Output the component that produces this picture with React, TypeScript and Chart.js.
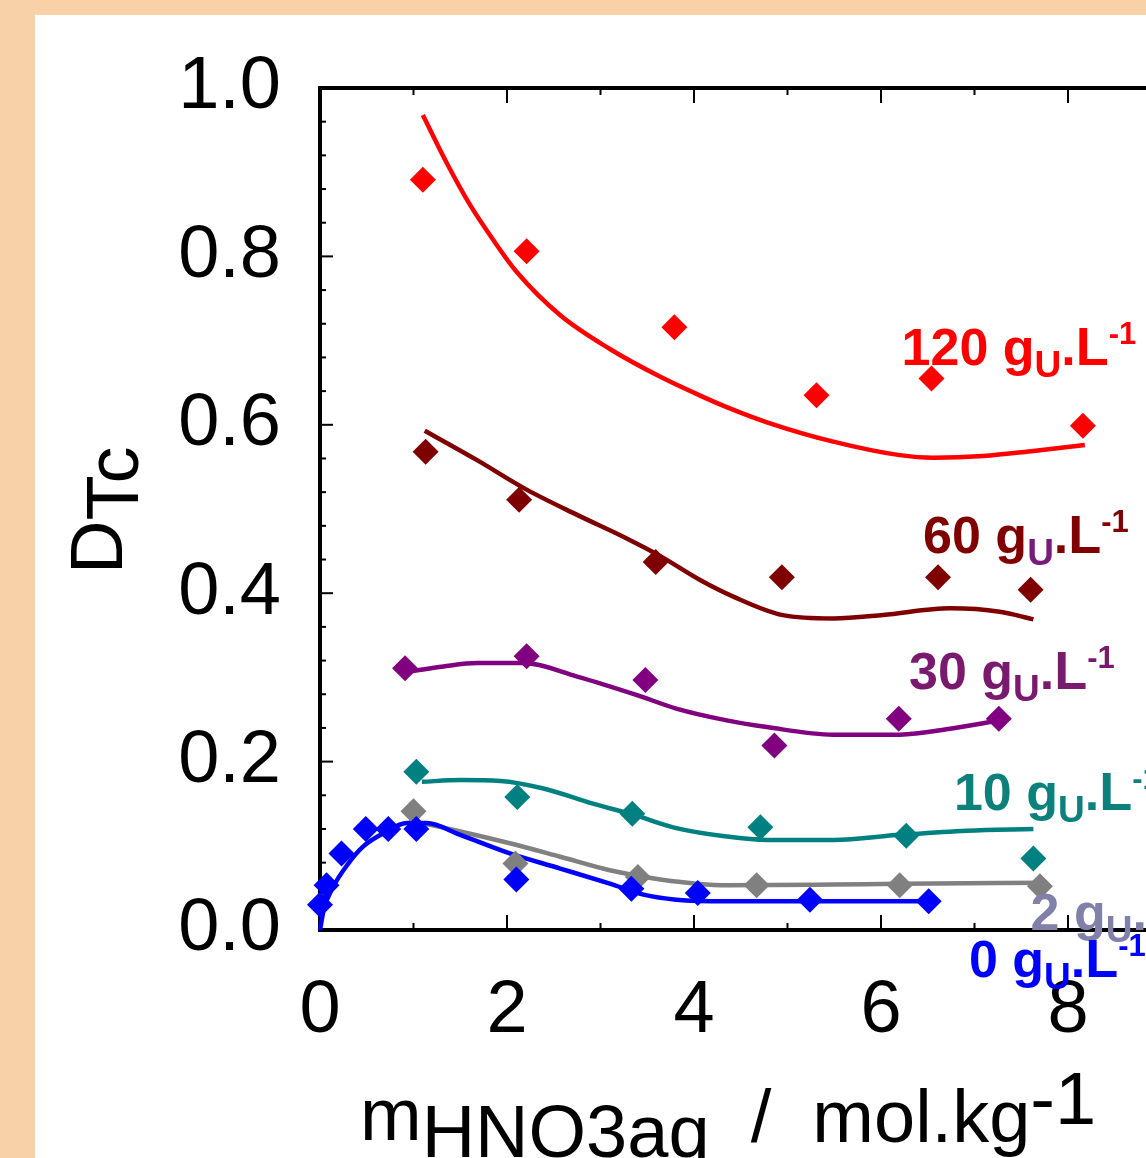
import React, { useEffect, useRef } from "react";
import { Chart, registerables } from "chart.js";

Chart.register(...registerables);

// ---- measured points (x = m HNO3 / mol.kg-1, y = D Tc) ----
const x0 = [0.0, 0.07, 0.23, 0.49, 0.73, 1.03, 2.1, 3.33, 4.04, 5.24, 6.51];
const y0 = [0.03, 0.053, 0.091, 0.12, 0.12, 0.12, 0.06, 0.049, 0.044, 0.036, 0.034];
const x2 = [1.0, 2.09, 3.4, 4.67, 6.2, 7.7];
const y2 = [0.141, 0.079, 0.063, 0.053, 0.053, 0.052];
const x10 = [1.03, 2.11, 3.34, 4.71, 6.27, 7.63];
const y10 = [0.188, 0.158, 0.138, 0.122, 0.112, 0.085];
const x30 = [0.91, 2.21, 3.48, 4.86, 6.19, 7.26];
const y30 = [0.311, 0.325, 0.297, 0.219, 0.251, 0.251];
const x60 = [1.13, 2.13, 3.59, 4.94, 6.61, 7.6];
const y60 = [0.568, 0.511, 0.437, 0.419, 0.419, 0.404];
const x120 = [1.1, 2.21, 3.79, 5.31, 6.54, 8.16];
const y120 = [0.891, 0.806, 0.716, 0.635, 0.655, 0.599];

// ---- fitted curves ----
const fx0 = [0, 0.04, 0.14, 0.29, 0.46, 0.68, 0.93, 1.14, 1.5, 2.03, 2.57, 3.1, 3.46, 3.81, 4.35, 5.49, 6.51];
const fy0 = [0, 0.024, 0.051, 0.077, 0.099, 0.115, 0.127, 0.127, 0.113, 0.091, 0.073, 0.055, 0.042, 0.036, 0.034, 0.034, 0.034];
const fx2 = [0.95, 1.07, 1.5, 2.03, 2.57, 3.1, 3.64, 4.35, 5.49, 6.2, 7.77];
const fy2 = [0.128, 0.127, 0.117, 0.103, 0.087, 0.071, 0.06, 0.053, 0.054, 0.055, 0.056];
const fx10 = [1.09, 1.5, 1.93, 2.39, 2.92, 3.35, 3.81, 4.35, 4.78, 5.49, 6.2, 6.92, 7.63];
const fy10 = [0.176, 0.178, 0.177, 0.168, 0.15, 0.137, 0.121, 0.111, 0.107, 0.107, 0.113, 0.118, 0.12];
const fx30 = [0.96, 1.32, 1.68, 2.17, 2.75, 3.39, 3.81, 4.35, 4.78, 5.49, 6.2, 6.74, 7.27];
const fy30 = [0.307, 0.313, 0.317, 0.317, 0.301, 0.279, 0.263, 0.249, 0.241, 0.232, 0.232, 0.239, 0.249];
const fx60 = [1.12, 1.68, 2.21, 2.75, 3.28, 3.64, 4.06, 4.42, 4.95, 5.49, 6.02, 6.74, 7.27, 7.63];
const fy60 = [0.593, 0.558, 0.523, 0.493, 0.465, 0.444, 0.416, 0.396, 0.374, 0.37, 0.374, 0.382, 0.378, 0.369];
const fx120 = [1.1, 1.36, 1.6, 1.85, 2.1, 2.57, 3.1, 3.64, 4.06, 4.35, 4.78, 5.49, 6.2, 6.56, 7.09, 7.63, 8.18];
const fy120 = [0.968, 0.91, 0.862, 0.82, 0.782, 0.73, 0.69, 0.657, 0.635, 0.621, 0.603, 0.58, 0.564, 0.561, 0.563, 0.569, 0.576];

// ---- ticks ----
const xTickValues = [0, 2, 4, 6, 8];
const xTickLabels = ["0", "2", "4", "6", "8"];
const yTickValues = [0, 0.2, 0.4, 0.6, 0.8, 1.0];
const yTickLabels = ["0.0", "0.2", "0.4", "0.6", "0.8", "1.0"];
const xMinorStep = 1;
const yMinorStep = 0.04;

// ---- series labels ----
const seriesNames = ["120", "60", "30", "10", "2", "0"];
const seriesColors = ["#ff0000", "#7f0000", "#800080", "#008080", "#808080", "#0000ff"];
const labelColors = ["#ff0000", "#800000", "#7a1a6e", "#0c807a", "#8080a8", "#0000ff"];
const labelUColors = ["#ff0000", "#7a1a7a", "#7a1a6e", "#0c807a", "#8080a8", "#0000ff"];
// anchor (data coords): left of text, baseline
const labelAnchorX = [6.22, 6.45, 6.3, 6.78, 7.6, 6.94];
const labelAnchorY = [0.671, 0.448, 0.286, 0.1425, 0.0, -0.056];

const FONT = '"Liberation Sans", Arial, sans-serif';

function pts(xs: number[], ys: number[]) {
  return xs.map((x, i) => ({ x, y: ys[i] }));
}

function drawRich(ctx: CanvasRenderingContext2D, x: number, y: number, parts: { t: string; f: string; c: string; dy: number }[]) {
  let cx = x;
  for (const p of parts) {
    ctx.font = p.f;
    ctx.fillStyle = p.c;
    ctx.fillText(p.t, cx, y + p.dy);
    cx += ctx.measureText(p.t).width;
  }
}

const framePlugin = {
  id: "frame",
  beforeDatasetsDraw(chart: any) {
    const { ctx, chartArea: a, scales } = chart;
    const xs = scales.x;
    const ys = scales.y;
    ctx.save();
    ctx.strokeStyle = "#000";
    ctx.lineWidth = 2;
    const line = (x1: number, y1: number, x2: number, y2: number) => {
      ctx.beginPath();
      ctx.moveTo(x1, y1);
      ctx.lineTo(x2, y2);
      ctx.stroke();
    };
    const nY = Math.round(1 / yMinorStep);
    for (let k = 0; k <= nY; k++) {
      const py = ys.getPixelForValue(k * yMinorStep);
      const L = k % 5 === 0 ? 13 : 6;
      line(a.left, py, a.left + L, py);
    }
    for (let k = 0; k <= 9; k++) {
      const px = xs.getPixelForValue(k * xMinorStep);
      const L = k % 2 === 0 ? 15 : 7;
      line(px, a.bottom, px, a.bottom - L);
      line(px, a.top, px, a.top + L);
    }
    ctx.lineWidth = 4;
    ctx.lineCap = "square";
    ctx.beginPath();
    ctx.moveTo(a.right + 20, a.top);
    ctx.lineTo(a.left, a.top);
    ctx.lineTo(a.left, a.bottom);
    ctx.lineTo(a.right + 20, a.bottom);
    ctx.stroke();
    ctx.restore();
  },
  afterDraw(chart: any) {
    const { ctx, chartArea: a, scales } = chart;
    const xs = scales.x;
    const ys = scales.y;
    ctx.save();
    ctx.textBaseline = "alphabetic";
    ctx.textAlign = "left";
    // series labels
    for (let i = 0; i < seriesNames.length; i++) {
      const px = xs.getPixelForValue(labelAnchorX[i]);
      const py = ys.getPixelForValue(labelAnchorY[i]);
      const c = labelColors[i];
      drawRich(ctx, px, py, [
        { t: seriesNames[i] + " g", f: `bold 52px ${FONT}`, c, dy: 0 },
        { t: "U", f: `bold 37px ${FONT}`, c: labelUColors[i], dy: 12 },
        { t: ".", f: `bold 52px ${FONT}`, c, dy: 0 },
        { t: "L", f: `bold 54px ${FONT}`, c, dy: 0 },
        { t: "-1", f: `bold 31px ${FONT}`, c, dy: -21 },
      ]);
    }
    // x title
    drawRich(ctx, a.left + 40, a.bottom + 210, [
      { t: "m", f: `74px ${FONT}`, c: "#000", dy: 0 },
      { t: "HNO3aq", f: `74px ${FONT}`, c: "#000", dy: 17 },
      { t: "  /  mol.kg", f: `74px ${FONT}`, c: "#000", dy: 2 },
      { t: "-1", f: `74px ${FONT}`, c: "#000", dy: -16 },
    ]);
    // y title (rotated)
    ctx.translate(a.left - 198, a.top + 486);
    ctx.rotate(-Math.PI / 2);
    drawRich(ctx, 0, 0, [
      { t: "D", f: `74px ${FONT}`, c: "#000", dy: 0 },
      { t: "Tc", f: `74px ${FONT}`, c: "#000", dy: 16 },
    ]);
    ctx.restore();
  },
};

export default function App() {
  const ref = useRef<HTMLCanvasElement | null>(null);
  useEffect(() => {
    if (!ref.current) return;
    const pointSets = [
      [x0, y0, 5],
      [x2, y2, 4],
      [x10, y10, 3],
      [x30, y30, 2],
      [x60, y60, 1],
      [x120, y120, 0],
    ] as [number[], number[], number][];
    const lineSets = [
      [fx0, fy0, 5],
      [fx2, fy2, 4],
      [fx10, fy10, 3],
      [fx30, fy30, 2],
      [fx60, fy60, 1],
      [fx120, fy120, 0],
    ] as [number[], number[], number][];
    const datasets: any[] = [];
    for (const [xs, ys, ci] of pointSets) {
      datasets.push({
        type: "scatter",
        data: pts(xs, ys),
        showLine: false,
        pointStyle: "rectRot",
        pointRadius: 13,
        pointBackgroundColor: seriesColors[ci],
        pointBorderColor: seriesColors[ci],
        pointBorderWidth: 0,
        clip: false,
      });
    }
    for (const [xs, ys, ci] of lineSets) {
      datasets.push({
        type: "line",
        data: pts(xs, ys),
        borderColor: seriesColors[ci],
        borderWidth: 4.5,
        pointRadius: 0,
        fill: false,
        cubicInterpolationMode: "monotone",
        clip: false,
      });
    }
    const chart = new Chart(ref.current, {
      type: "scatter",
      data: { datasets },
      options: {
        animation: false,
        responsive: false,
        devicePixelRatio: 1,
        layout: { padding: { left: 0, top: 73, right: 23.5, bottom: 0 } },
        plugins: { legend: { display: false }, tooltip: { enabled: false } },
        events: [],
        scales: {
          x: {
            type: "linear",
            position: "bottom",
            min: 0,
            max: 9,
            grid: { display: false, drawTicks: false },
            border: { display: false },
            ticks: {
              autoSkip: false,
              maxRotation: 0,
              padding: 37,
              color: "#000",
              font: { family: FONT, size: 74 },
              callback: (v: any) => {
                const i = xTickValues.indexOf(Number(v));
                return i >= 0 ? xTickLabels[i] : "";
              },
            },
            afterBuildTicks: (s: any) => {
              s.ticks = xTickValues.map((v) => ({ value: v }));
            },
            afterFit: (s: any) => {
              s.height = 228;
              s.paddingLeft = 0;
              s.paddingRight = 0;
              s.paddingTop = 0;
              s.paddingBottom = 0;
            },
          },
          y: {
            type: "linear",
            position: "left",
            min: 0,
            max: 1,
            grid: { display: false, drawTicks: false },
            border: { display: false },
            ticks: {
              autoSkip: false,
              padding: 39,
              color: "#000",
              font: { family: FONT, size: 74 },
              callback: (v: any) => {
                const i = yTickValues.findIndex((t) => Math.abs(t - Number(v)) < 1e-9);
                return i >= 0 ? yTickLabels[i] : "";
              },
            },
            afterBuildTicks: (s: any) => {
              s.ticks = yTickValues.map((v) => ({ value: v }));
            },
            afterFit: (s: any) => {
              s.width = 285;
              s.paddingLeft = 0;
              s.paddingRight = 0;
              s.paddingTop = 0;
              s.paddingBottom = 0;
            },
          },
        },
      },
      plugins: [framePlugin],
    } as any);
    return () => chart.destroy();
  }, []);

  return (
    <div
      style={{
        position: "fixed",
        left: 0,
        top: 0,
        width: "1146px",
        height: "1158px",
        overflow: "hidden",
        background: "#f8d1a9",
      }}
    >
      <canvas
        ref={ref}
        width={1150}
        height={1143}
        style={{ position: "absolute", left: "35px", top: "15px", background: "#fff", width: "1150px", height: "1143px" }}
      />
    </div>
  );
}
